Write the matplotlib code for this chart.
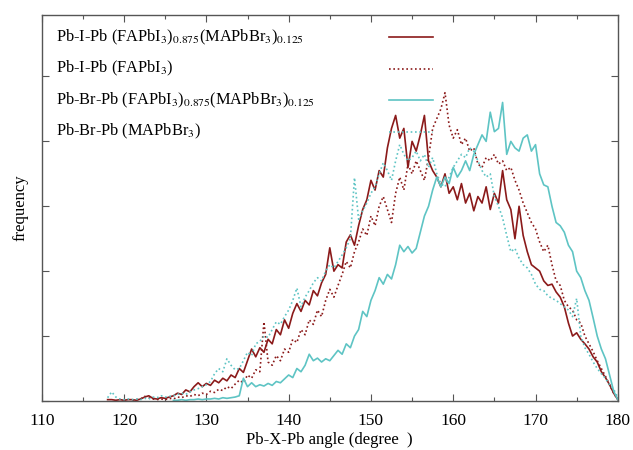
import numpy as np
from matplotlib import pyplot as plt

# angle grid (degree), 0.5 step
x_red = np.arange(118, 180.01, 0.5)
x_red_fa = np.arange(121, 180.01, 0.5)
x_cyan = np.arange(126, 180.01, 0.5)
x_cyan_ma = np.arange(118, 180.01, 0.5)

# Pb-I-Pb (FAPbI3)0.875(MAPbBr3)0.125
y_red = [0.02, 0.02, 0.01, 0.02, 0.01, 0.02, 0.02, 0.01, 0.03, 0.06,
         0.08, 0.04, 0.03, 0.05, 0.04, 0.06, 0.08, 0.12, 0.10, 0.17,
         0.14, 0.22, 0.28, 0.22, 0.27, 0.24, 0.32, 0.28, 0.35, 0.31,
         0.40, 0.36, 0.50, 0.44, 0.62, 0.80, 0.68, 0.82, 0.75, 0.95,
         0.88, 1.10, 1.02, 1.25, 1.12, 1.35, 1.50, 1.38, 1.55, 1.48,
         1.70, 1.62, 1.82, 1.95, 2.36, 2.00, 2.10, 2.05, 2.45, 2.56,
         2.40, 2.70, 2.95, 3.10, 3.40, 3.25, 3.55, 3.45, 3.90, 4.20,
         4.40, 4.05, 4.20, 3.60, 4.00, 3.85, 4.10, 4.40, 3.70, 3.55,
         3.45, 3.30, 3.50, 3.20, 3.30, 3.10, 3.35, 3.05, 3.20, 2.93,
         3.15, 3.05, 3.30, 2.95, 3.20, 3.05, 3.55, 3.10, 2.95, 2.50,
         3.00, 2.55, 2.30, 2.10, 2.05, 2.00, 1.85, 1.78, 1.80, 1.68,
         1.60, 1.45, 1.20, 1.00, 1.05, 0.95, 0.88, 0.80, 0.68, 0.60,
         0.45, 0.36, 0.25, 0.12, 0.02]

# Pb-I-Pb (FAPbI3)
y_red_fa = [0.01, 0.02, 0.03, 0.07, 0.05, 0.03, 0.02, 0.03, 0.02, 0.04,
            0.03, 0.06, 0.05, 0.08, 0.07, 0.10, 0.08, 0.12, 0.10, 0.15,
            0.13, 0.18, 0.16, 0.22, 0.19, 0.26, 0.32, 0.28, 0.40, 0.35,
            0.48, 0.45, 1.22, 0.60, 0.55, 0.70, 0.62, 0.80, 0.75, 0.95,
            0.90, 1.10, 1.02, 1.25, 1.18, 1.40, 1.30, 1.55, 1.72, 1.60,
            1.78, 1.95, 2.15, 2.05, 2.30, 2.45, 2.65, 2.55, 2.85, 2.70,
            3.00, 3.15, 2.95, 2.75, 3.20, 3.45, 3.25, 3.65, 3.50, 3.70,
            3.55, 3.40, 3.75, 4.20, 4.35, 4.50, 4.75, 4.25, 4.05, 4.18,
            3.95, 4.05, 3.85, 3.90, 3.65, 3.60, 3.75, 3.70, 3.80, 3.65,
            3.70, 3.55, 3.60, 3.40, 3.25, 3.05, 2.90, 2.75, 2.65, 2.45,
            2.30, 2.40, 2.10, 1.85, 1.78, 1.55, 1.45, 1.40, 1.25, 1.20,
            1.00, 0.88, 0.76, 0.62, 0.50, 0.38, 0.25, 0.12, 0.02]

# Pb-Br-Pb (FAPbI3)0.875(MAPbBr3)0.125
y_cyan = [0.01, 0.01, 0.02, 0.01, 0.02, 0.02, 0.03, 0.02, 0.03, 0.03,
          0.04, 0.03, 0.05, 0.04, 0.05, 0.06, 0.08, 0.35, 0.22, 0.28,
          0.22, 0.25, 0.23, 0.27, 0.24, 0.30, 0.28, 0.34, 0.40, 0.36,
          0.50, 0.45, 0.55, 0.72, 0.62, 0.66, 0.60, 0.65, 0.62, 0.70,
          0.78, 0.72, 0.88, 0.82, 1.00, 1.10, 1.38, 1.30, 1.55, 1.70,
          1.90, 1.80, 1.95, 1.88, 2.10, 2.40, 2.30, 2.38, 2.28, 2.35,
          2.60, 2.85, 3.00, 3.25, 3.45, 3.30, 3.45, 3.35, 3.60, 3.45,
          3.55, 3.70, 3.55, 3.80, 3.95, 4.10, 4.00, 4.45, 4.15, 4.20,
          4.60, 3.80, 4.00, 3.90, 3.85, 4.05, 4.10, 3.85, 3.95, 3.50,
          3.33, 3.30, 3.00, 2.75, 2.70, 2.60, 2.40, 2.30, 2.00, 1.90,
          1.70, 1.55, 1.28, 1.00, 0.80, 0.65, 0.40, 0.15, 0.02]

# Pb-Br-Pb (MAPbBr3)
y_cyan_ma = [0.05, 0.14, 0.06, 0.03, 0.02, 0.03, 0.02, 0.03, 0.02, 0.04,
             0.03, 0.06, 0.05, 0.08, 0.06, 0.07, 0.08, 0.10, 0.12, 0.10,
             0.14, 0.17, 0.19, 0.22, 0.25, 0.30, 0.42, 0.50, 0.45, 0.65,
             0.55, 0.48, 0.50, 0.62, 0.75, 0.70, 0.88, 0.92, 1.00, 0.98,
             1.10, 1.22, 1.18, 1.30, 1.40, 1.55, 1.74, 1.45, 1.60, 1.70,
             1.82, 1.90, 1.85, 2.00, 2.10, 2.05, 2.15, 2.25, 2.36, 2.50,
             3.44, 2.80, 2.93, 3.05, 3.20, 3.30, 3.50, 3.67, 3.55, 3.40,
             3.70, 3.95, 3.80, 3.70, 3.75, 3.85, 3.70, 3.80, 3.60, 3.75,
             3.50, 3.35, 3.30, 3.45, 3.60, 3.70, 3.80, 3.75, 3.90, 3.85,
             3.70, 3.55, 3.45, 3.50, 3.15, 3.00, 2.82, 2.55, 2.30, 2.35,
             2.20, 2.10, 2.05, 1.95, 1.80, 1.72, 1.70, 1.62, 1.58, 1.55,
             1.50, 1.45, 1.40, 1.30, 1.58, 1.00, 0.82, 0.72, 0.60, 0.50,
             0.42, 0.35, 0.25, 0.18, 0.05]

labels = [r'Pb-I-Pb (FAPbI$_3$)$_{0.875}$(MAPbBr$_3$)$_{0.125}$',
          r'Pb-I-Pb (FAPbI$_3$)',
          r'Pb-Br-Pb (FAPbI$_3$)$_{0.875}$(MAPbBr$_3$)$_{0.125}$',
          r'Pb-Br-Pb (MAPbBr$_3$)']

RED = '#8b1a1a'
CYAN = '#5ec4c4'
DOT = (0, (1, 1.6))

plt.rcParams['font.family'] = ['Liberation Serif', 'DejaVu Serif']
plt.rcParams['mathtext.fontset'] = 'stix'

fig = plt.figure(figsize=(6.33, 4.5), dpi=100)
ax = fig.add_axes([0.066, 0.109, 0.910, 0.858])

series = [(x_red, y_red, RED, '-'),
          (x_red_fa, y_red_fa, RED, DOT),
          (x_cyan, y_cyan, CYAN, '-'),
          (x_cyan_ma, y_cyan_ma, CYAN, DOT)]

for i, (xs, ys, c, ls) in enumerate(series):
    ax.plot(xs, ys, color=c, ls=ls, lw=1.2)
    # gnuplot-style key: text on the left, sample line further right
    yk = 0.942 - i * 0.0815
    ax.text(0.024, yk, labels[i], transform=ax.transAxes, fontsize=11.8,
            va='center', ha='left')
    ax.plot([0.602, 0.68], [yk, yk], transform=ax.transAxes, color=c,
            ls=ls, lw=1.2)

ax.set_xlim(110, 180)
ax.set_ylim(0, 5.95)
ax.set_xticks(np.arange(110, 181, 10))
ax.set_xticks(np.arange(115, 180, 10), minor=True)
ax.set_yticks(np.arange(0, 6, 1))
ax.set_yticklabels([])
ax.tick_params(direction='in', top=True, right=True, length=5, width=0.8,
               colors='#555555', labelcolor='black', labelsize=12.5)
ax.tick_params(axis='x', pad=9)
ax.tick_params(which='minor', direction='in', top=True, right=True,
               length=3, width=0.8, colors='#555555')
for s in ax.spines.values():
    s.set_color('#555555')
    s.set_linewidth(1.0)

ax.set_xlabel('Pb-X-Pb angle (degree  )', fontsize=12, labelpad=2)
ax.set_ylabel('frequency', fontsize=12, labelpad=6)

fig.savefig('out.png', dpi=100)
